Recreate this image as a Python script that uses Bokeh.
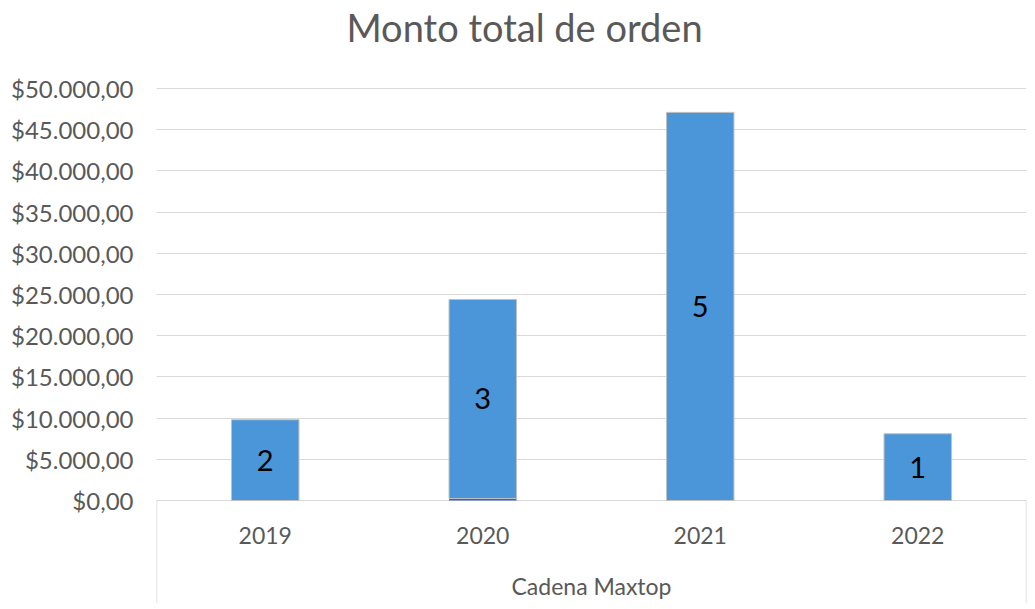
from bokeh.plotting import figure
from bokeh.models import FactorRange, Range1d, FixedTicker, CustomJSTickFormatter, ColumnDataSource
from bokeh.core.properties import value
from bokeh.embed import file_html
from bokeh.resources import INLINE

# ---- data ----
years = ["2019", "2020", "2021", "2022"]
monto = [9800, 24150, 47100, 8100]
otro = [0, 250, 0, 0]
ordenes = ["2", "3", "5", "1"]
y_ticks = [0, 5000, 10000, 15000, 20000, 25000, 30000, 35000, 40000, 45000, 50000]
group_label = "Cadena Maxtop"
chart_title = "Monto total de orden"

# ---- style / geometry ----
FONT = "Lato"
GRAY = "#595959"
GRID = "#d9d9d9"
Y_MAX = 59709          # space above the value area holds the title
Y_MIN = -12500         # space below zero holds the category box
TITLE_Y = 57520
YEAR_LABEL_Y = -4300
GROUP_LABEL_Y = -10400

p = figure(
    x_range=FactorRange(*years),
    y_range=Range1d(Y_MIN, Y_MAX),
    width=1029, height=608, title=None,
    output_backend="svg", toolbar_location=None,
    x_axis_location=None,
    min_border_left=156, min_border_right=3,
    min_border_top=8, min_border_bottom=5,
)
p.outline_line_color = None
p.background_fill_color = "white"
p.border_fill_color = "white"

# y axis
p.yaxis.ticker = FixedTicker(ticks=y_ticks)
p.yaxis.formatter = CustomJSTickFormatter(code="""
    const s = Math.round(tick).toString().replace(/\\B(?=(\\d{3})+(?!\\d))/g, ".");
    return "$" + s + ",00";
""")
p.yaxis.axis_line_color = None
p.yaxis.major_tick_line_color = None
p.yaxis.minor_tick_line_color = None
p.yaxis.major_label_standoff = 17
p.yaxis.major_label_text_font = FONT
p.yaxis.major_label_text_font_size = "24px"
p.yaxis.major_label_text_color = GRAY

p.ygrid.grid_line_color = GRID
p.ygrid.grid_line_width = 1
p.xgrid.visible = False

# title
p.text(x=[(years[1], 0.192)], y=[TITLE_Y], text=[chart_title], text_align="center",
       text_baseline="middle", text_font=value(FONT), text_font_size="38px",
       text_color=GRAY)

# bars
src = ColumnDataSource(dict(years=years, otro=otro, monto=monto))
p.vbar_stack(["otro", "monto"], x="years", width=0.31, source=src,
             fill_color=["#3f5fcf", "#4b96d8"],
             line_color=["#3f5fcf", "#bfbfbf"],
             line_alpha=[0, 1], line_width=1)

# data labels
lab_y = [o + m / 2 for o, m in zip(otro, monto)]
p.text(x=years, y=lab_y, text=ordenes, text_align="center", text_baseline="middle",
       text_font=value(FONT), text_font_size="29px", text_color="black")

# category box below the axis
p.segment(x0=[(years[0], -0.5), (years[-1], 0.5)], y0=[0, 0],
          x1=[(years[0], -0.5), (years[-1], 0.5)], y1=[Y_MIN, Y_MIN],
          line_color=GRID, line_width=1.5)

p.text(x=years, y=[YEAR_LABEL_Y] * len(years), text=years, text_align="center",
       text_baseline="middle", text_font=value(FONT), text_font_size="23px",
       text_color=GRAY)
p.text(x=[(years[1], 0.5)], y=[GROUP_LABEL_Y], text=[group_label], text_align="center",
       text_baseline="middle", text_font=value(FONT), text_font_size="23px",
       text_color=GRAY)

open("out.html", "w").write(file_html(p, INLINE))
